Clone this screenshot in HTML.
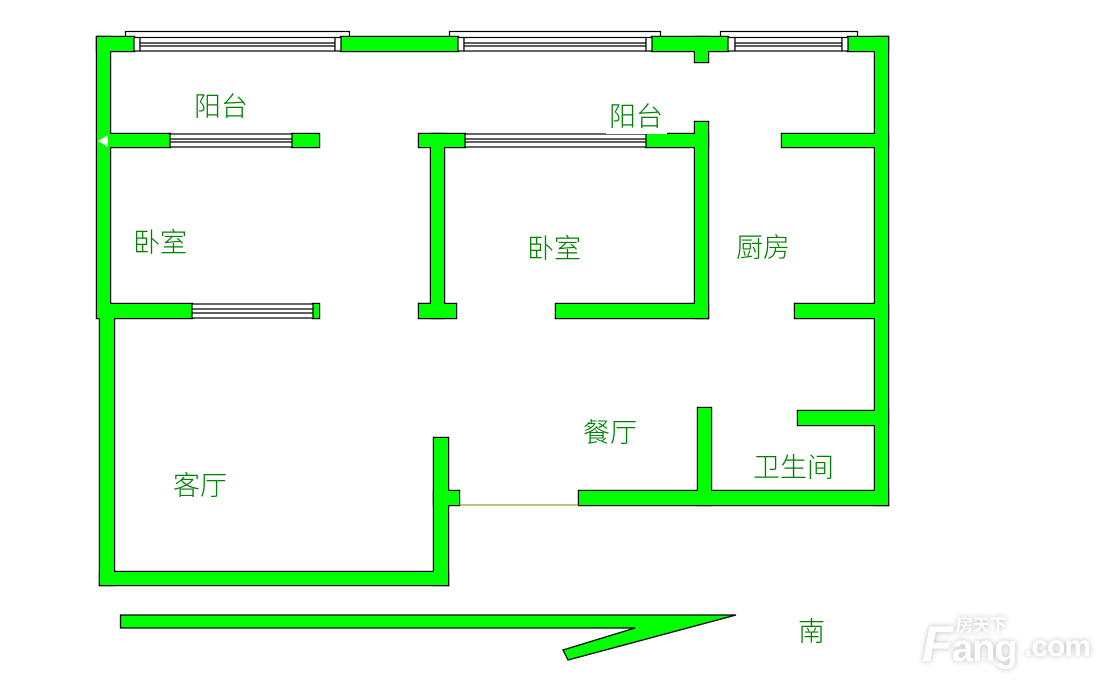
<!DOCTYPE html>
<html><head><meta charset="utf-8"><style>
html,body{margin:0;padding:0;background:#fff;width:1120px;height:682px;overflow:hidden}
svg{display:block}
.t{font-family:"Liberation Sans","Noto Sans CJK SC",sans-serif;font-size:27px;font-weight:300;fill:#008000}
</style></head><body>
<svg width="1120" height="682" viewBox="0 0 1120 682" xmlns="http://www.w3.org/2000/svg">
<g fill="#fff" stroke="#000" stroke-width="1.2">
<rect x="125.5" y="31.5" width="224" height="8"/>
<rect x="449.5" y="31.5" width="211" height="8"/>
<rect x="720.5" y="31.5" width="137" height="8"/>
</g>
<g fill="#00ff00" stroke="#000" stroke-width="2.4">
<rect x="97" y="37" width="37" height="14"/>
<rect x="341" y="37" width="117" height="14"/>
<rect x="652" y="37" width="76" height="14"/>
<rect x="848" y="37" width="40" height="14"/>
<rect x="695" y="37" width="13" height="25"/>
<rect x="875" y="37" width="13" height="468"/>
<rect x="97" y="37" width="13" height="281"/>
<rect x="100" y="312" width="14" height="273"/>
<rect x="100" y="572" width="348" height="13"/>
<rect x="434" y="438" width="14" height="147"/>
<rect x="434" y="491" width="25" height="14"/>
<rect x="110" y="134" width="60" height="13"/>
<rect x="292" y="134" width="27" height="13"/>
<rect x="110" y="304" width="82" height="14"/>
<rect x="313" y="304" width="6" height="14"/>
<rect x="419" y="134" width="46" height="13"/>
<rect x="431" y="134" width="13" height="184"/>
<rect x="419" y="304" width="37" height="14"/>
<rect x="646" y="134" width="62" height="13"/>
<rect x="695" y="122" width="13" height="196"/>
<rect x="556" y="304" width="152" height="14"/>
<rect x="782" y="134" width="106" height="13"/>
<rect x="795" y="304" width="93" height="14"/>
<rect x="798" y="411" width="90" height="14"/>
<rect x="698" y="408" width="13" height="97"/>
<rect x="579" y="491" width="309" height="14"/>
</g>
<g fill="#00ff00" stroke="none">
<rect x="97" y="37" width="37" height="14"/><rect x="341" y="37" width="117" height="14"/><rect x="652" y="37" width="76" height="14"/><rect x="848" y="37" width="40" height="14"/><rect x="695" y="37" width="13" height="25"/><rect x="875" y="37" width="13" height="468"/><rect x="97" y="37" width="13" height="281"/><rect x="100" y="312" width="14" height="273"/><rect x="100" y="572" width="348" height="13"/><rect x="434" y="438" width="14" height="147"/><rect x="434" y="491" width="25" height="14"/><rect x="110" y="134" width="60" height="13"/><rect x="292" y="134" width="27" height="13"/><rect x="110" y="304" width="82" height="14"/><rect x="313" y="304" width="6" height="14"/><rect x="419" y="134" width="46" height="13"/><rect x="431" y="134" width="13" height="184"/><rect x="419" y="304" width="37" height="14"/><rect x="646" y="134" width="62" height="13"/><rect x="695" y="122" width="13" height="196"/><rect x="556" y="304" width="152" height="14"/><rect x="782" y="134" width="106" height="13"/><rect x="795" y="304" width="93" height="14"/><rect x="798" y="411" width="90" height="14"/><rect x="698" y="408" width="13" height="97"/><rect x="579" y="491" width="309" height="14"/>
</g>
<g fill="#fff" stroke="#000" stroke-width="1.2">
<rect x="134" y="37.5" width="6" height="13.5"/><rect x="140" y="37.5" width="195" height="13.5"/><rect x="335" y="37.5" width="6" height="13.5"/>
<rect x="458" y="37.5" width="6" height="13.5"/><rect x="464" y="37.5" width="182" height="13.5"/><rect x="646" y="37.5" width="6" height="13.5"/>
<rect x="728" y="37.5" width="7" height="13.5"/><rect x="735" y="37.5" width="107" height="13.5"/><rect x="842" y="37.5" width="6" height="13.5"/>
<rect x="170" y="134" width="122" height="13"/>
<rect x="465" y="134" width="181" height="13"/>
<rect x="192" y="304" width="121" height="14"/>
</g>
<g stroke="#000" stroke-width="1.2">
<line x1="140" y1="43" x2="335" y2="43"/><line x1="140" y1="46" x2="335" y2="46"/>
<line x1="464" y1="43" x2="646" y2="43"/><line x1="464" y1="46" x2="646" y2="46"/>
<line x1="735" y1="43" x2="842" y2="43"/><line x1="735" y1="46" x2="842" y2="46"/>
<line x1="170" y1="139" x2="292" y2="139"/><line x1="170" y1="142" x2="292" y2="142"/>
<line x1="465" y1="139" x2="646" y2="139"/><line x1="465" y1="142" x2="646" y2="142"/>
<line x1="192" y1="309" x2="313" y2="309"/><line x1="192" y1="313" x2="313" y2="313"/>
</g>
<line x1="459" y1="505" x2="579" y2="505" stroke="#808000" stroke-width="1"/>
<polygon points="98,141 108,135 108,147" fill="#fff"/>
<rect x="606" y="100" width="61" height="34" fill="#fff"/>
<text class="t" x="194" y="116">阳台</text>
<text class="t" x="609" y="126">阳台</text>
<text class="t" x="133" y="252">卧室</text>
<text class="t" x="527" y="258">卧室</text>
<text class="t" x="736" y="257">厨房</text>
<text class="t" x="583" y="442">餐厅</text>
<text class="t" x="753" y="477">卫生间</text>
<text class="t" x="173" y="495">客厅</text>
<text class="t" x="798" y="641">南</text>
<polygon points="120.5,615 736,615 568,660 563,650 635,628 120.5,628" fill="#00ff00" stroke="#000" stroke-width="1.3"/>
<g style="filter:drop-shadow(0 0 3px #bbb)">
<text x="922" y="661" font-family="Liberation Sans,sans-serif" font-weight="bold" font-style="italic" font-size="50" fill="#fff">F</text>
<text x="952" y="661" font-family="Liberation Sans,sans-serif" font-weight="bold" font-size="38" fill="#fff" letter-spacing="-1">ang</text>
<text x="1024" y="656" font-family="Liberation Sans,sans-serif" font-weight="bold" font-size="30" fill="#fff" letter-spacing="-1">.com</text>
<text x="956" y="631" font-family="Liberation Sans,'Noto Sans CJK SC',sans-serif" font-weight="bold" font-size="17" fill="#fff">房天下</text>
</g>
</svg>
</body></html>
